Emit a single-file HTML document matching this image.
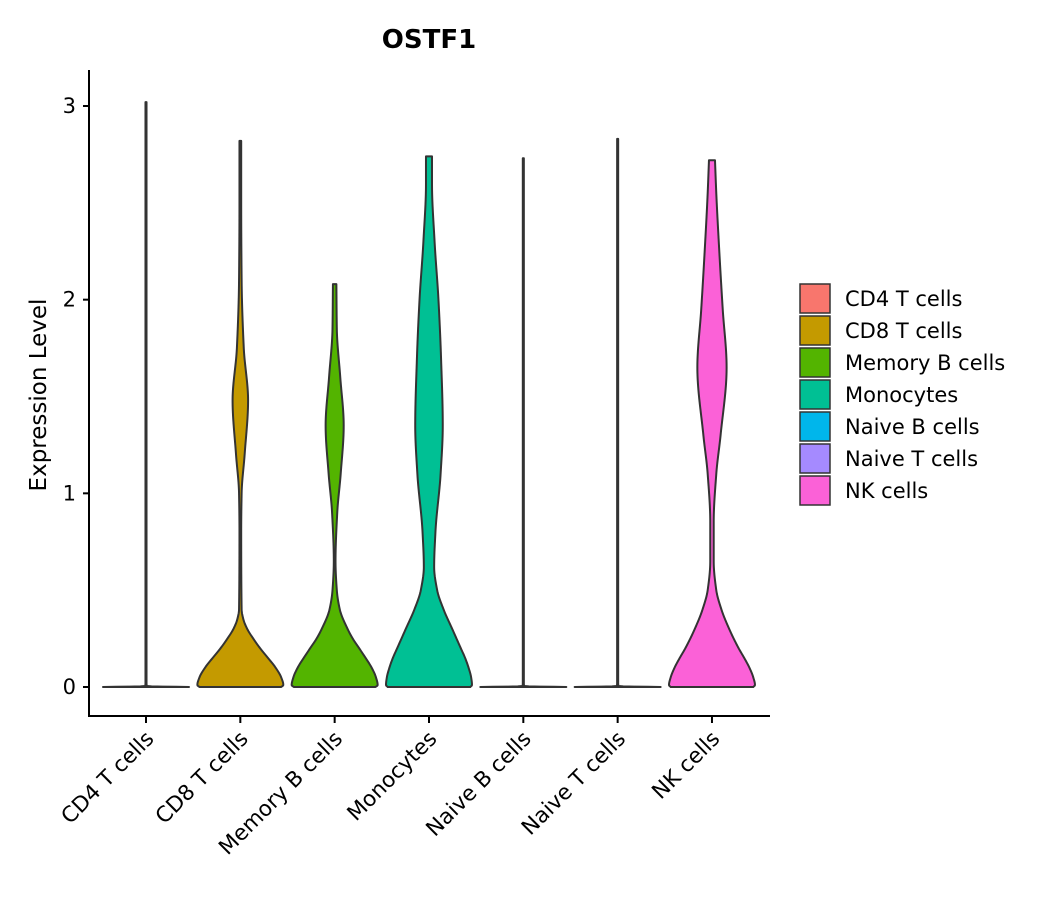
<!DOCTYPE html>
<html><head><meta charset="utf-8"><style>
body{margin:0;background:#fff;}
svg{display:block;font-family:"DejaVu Sans","Liberation Sans",sans-serif;}
</style></head><body>
<svg id="chart" width="1050" height="900" viewBox="0 0 1050 900">
<text x="429" y="48" text-anchor="middle" font-size="26" font-weight="bold">OSTF1</text>
<text transform="translate(46,395) rotate(-90)" text-anchor="middle" font-size="23">Expression Level</text>
<g id="violins"></g>
<g id="axes"></g>
<g id="legend"></g>
</svg>
<script>
const categories = ["CD4 T cells","CD8 T cells","Memory B cells","Monocytes","Naive B cells","Naive T cells","NK cells"];
const colors = ["#F8766D","#C49A00","#53B400","#00C094","#00B6EB","#A58AFF","#FB61D7"];
const yTicks = [0,1,2,3];
// density profiles: y levels and relative half-widths (0..1)
const cd4Y = [0,0.004,0.02,3.02];           const cd4W = [1,0.02,0.012,0.012];
const cd8Y = [0,0.01,0.05,0.1,0.14,0.2,0.25,0.3,0.35,0.4,0.8,1.0,1.2,1.48,1.75,2.1,2.5,2.82]; const cd8W = [0.95,1,0.95,0.82,0.68,0.46,0.3,0.16,0.07,0.03,0.02,0.03,0.1,0.18,0.08,0.03,0.02,0.02];
const memY = [0,0.01,0.05,0.1,0.15,0.2,0.25,0.3,0.4,0.5,0.65,0.9,1.1,1.35,1.6,1.85,2.08]; const memW = [0.95,1,0.96,0.86,0.72,0.57,0.42,0.3,0.12,0.05,0.02,0.06,0.14,0.21,0.13,0.05,0.04];
const monoY = [0,0.01,0.05,0.1,0.15,0.2,0.3,0.4,0.5,0.62,0.8,1.1,1.35,1.7,2.0,2.3,2.6,2.74]; const monoW = [0.96,1,0.98,0.92,0.84,0.74,0.54,0.34,0.19,0.12,0.15,0.27,0.32,0.28,0.22,0.13,0.07,0.07];
const nbY = [0,0.004,0.02,2.73];            const nbW = [1,0.02,0.012,0.012];
const ntY = [0,0.004,0.02,2.83];            const ntW = [1,0.02,0.012,0.012];
const nkY = [0,0.01,0.05,0.1,0.15,0.2,0.3,0.4,0.5,0.65,0.85,1.1,1.3,1.65,1.95,2.25,2.55,2.72]; const nkW = [0.96,1,0.96,0.87,0.75,0.62,0.4,0.22,0.1,0.04,0.04,0.1,0.2,0.34,0.25,0.17,0.1,0.07];
const profilesY = [cd4Y,cd8Y,memY,monoY,nbY,ntY,nkY];
const profilesW = [cd4W,cd8W,memW,monoW,nbW,ntW,nkW];

const NS="http://www.w3.org/2000/svg";
const y0=687, y3=106, x0=146, dx=94.33, halfMax=43;
const yScale=v=>y0+(y3-y0)*v/3;
const xScale=i=>x0+i*dx;
function mk(tag,attrs,parent){const e=document.createElementNS(NS,tag);for(const k in attrs)e.setAttribute(k,attrs[k]);parent.appendChild(e);return e;}
// monotone cubic interpolation (Fritsch-Carlson)
function monotone(xs,ys){
  const n=xs.length,d=[],m=[];
  for(let i=0;i<n-1;i++)d.push((ys[i+1]-ys[i])/(xs[i+1]-xs[i]));
  m[0]=d[0];m[n-1]=d[n-2];
  for(let i=1;i<n-1;i++){ if(d[i-1]*d[i]<=0)m[i]=0; else {const h0=xs[i]-xs[i-1],h1=xs[i+1]-xs[i];const w1=2*h1+h0,w2=h1+2*h0;m[i]=(w1+w2)/(w1/d[i-1]+w2/d[i]);} }
  return x=>{let i=0;while(i<n-2&&x>xs[i+1])i++;const h=xs[i+1]-xs[i],t=(x-xs[i])/h;const t2=t*t,t3=t2*t;
    return (2*t3-3*t2+1)*ys[i]+(t3-2*t2+t)*h*m[i]+(-2*t3+3*t2)*ys[i+1]+(t3-t2)*h*m[i+1];};
}
const gV=document.getElementById('violins');
categories.forEach((c,i)=>{
  const cx=xScale(i), ys=profilesY[i], ws=profilesW[i];
  const f=monotone(ys,ws), top=ys[ys.length-1];
  const samples=[];
  for(let k=0;k<=400;k++){const v=top*k/400;samples.push([v,Math.max(0,f(v))]);}
  [0.001,0.002,0.003,0.005,0.008].forEach(v=>{if(v<top)samples.push([v,Math.max(0,f(v))]);});
  samples.sort((a,b)=>a[0]-b[0]);
  const right=samples.map(s=>(cx+s[1]*halfMax).toFixed(2)+","+yScale(s[0]).toFixed(2));
  const left=samples.slice().reverse().map(s=>(cx-s[1]*halfMax).toFixed(2)+","+yScale(s[0]).toFixed(2));
  const d="M"+right.join(" L")+" L"+left.join(" L")+" Z";
  const p=mk('path',{d:d,fill:colors[i],stroke:'#333',"stroke-width":2,"stroke-linejoin":"round"},gV);
  
  
});
const gA=document.getElementById('axes');
mk('line',{x1:89,y1:70,x2:89,y2:717,stroke:'#000',"stroke-width":2},gA);
mk('line',{x1:88,y1:716,x2:770,y2:716,stroke:'#000',"stroke-width":2},gA);
yTicks.forEach(t=>{
  const y=yScale(t);
  mk('line',{x1:83,y1:y,x2:89,y2:y,stroke:'#000',"stroke-width":2},gA);
  const tx=mk('text',{x:76,y:y+7,"text-anchor":"end","font-size":21,fill:'#000'},gA);
  tx.textContent=t;
  
  
});
categories.forEach((c,i)=>{
  const x=xScale(i);
  mk('line',{x1:x,y1:716,x2:x,y2:723,stroke:'#000',"stroke-width":2},gA);
  const tx=mk('text',{transform:`translate(${x+9},${740}) rotate(-45)`,"text-anchor":"end","font-size":21.5,fill:'#000'},gA);
  tx.textContent=c;
  
  
});
const gL=document.getElementById('legend');
categories.forEach((c,i)=>{
  const y=283+i*32;
  const r=mk('rect',{x:800,y:y+1,width:30,height:29,fill:colors[i],stroke:'#333',"stroke-width":1.5},gL);
  
  
  const t=mk('text',{x:845,y:y+23,"font-size":21,fill:'#000'},gL);
  t.textContent=c;
  
  
});
</script>
</body></html>
